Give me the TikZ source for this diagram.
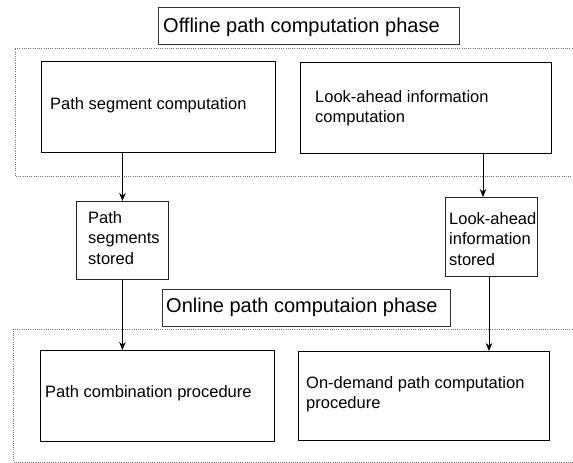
\documentclass[tikz,border=0pt]{standalone}
\usepackage{fontspec}
\setmainfont{Liberation Sans}
\usetikzlibrary{arrows.meta}
\begin{document}
\begin{tikzpicture}[x=1pt,y=-1pt,
  procbox/.style={draw=black, line width=1.2pt, inner sep=0pt, anchor=north west},
  storebox/.style={draw=black!85, line width=0.9pt, inner sep=0pt, anchor=north west},
  titlebox/.style={draw=black!80, line width=0.9pt, inner sep=0pt, anchor=north west},
  phase/.style={draw=black!55, line width=0.8pt, dash pattern=on 0.9pt off 1.3pt},
  txt/.style={anchor=base west, inner sep=0pt, font=\fontsize{16.5}{20.5}\selectfont},
  ttl/.style={anchor=base west, inner sep=0pt, font=\fontsize{20}{24}\selectfont},
  flow/.style={draw=black, line width=0.8pt, -{Stealth[length=8pt,width=6.5pt]}}
]
\useasboundingbox (0,0) rectangle (573,463);
% phase frames (open on the right)
\draw[phase] (590,48) -- (15,48) -- (15,176) -- (590,176);
\draw[phase] (590,329) -- (13,329) -- (13,462) -- (590,462);
% titles
\node[titlebox, minimum width=301pt, minimum height=37pt] (t1) at (158,7) {};
\node[ttl] (t1txt) at (163,32) {Offline path computation phase};
\node[titlebox, minimum width=288pt, minimum height=37pt] (t2) at (162,289) {};
\node[ttl] (t2txt) at (166,312) {Online path computaion phase};
% process boxes
\node[procbox, minimum width=234pt, minimum height=91pt] (b1) at (41,61) {};
\node[txt] (b1txt) at (50,109) {Path segment computation};
\node[procbox, minimum width=251pt, minimum height=91pt] (b2) at (300,62) {};
\node[txt] (b2txt) at (315,102) {\begin{tabular}[t]{@{}l@{}}Look-ahead information\\computation\end{tabular}};
\node[procbox, minimum width=234pt, minimum height=91pt] (b3) at (40,350) {};
\node[txt] (b3txt) at (45,397) {Path combination procedure};
\node[procbox, minimum width=251pt, minimum height=89pt] (b4) at (298,351) {};
\node[txt] (b4txt) at (306,388) {\begin{tabular}[t]{@{}l@{}}On-demand path computation\\procedure\end{tabular}};
% store boxes
\node[storebox, minimum width=92pt, minimum height=78pt] (s1) at (76,201) {};
\node[txt] (s1txt) at (88,223) {\begin{tabular}[t]{@{}l@{}}Path\\segments\\stored\end{tabular}};
\node[storebox, minimum width=92pt, minimum height=79pt] (s2) at (445,197) {};
\node[txt] (s2txt) at (449,224) {\begin{tabular}[t]{@{}l@{}}Look-ahead\\information\\stored\end{tabular}};
% arrow columns
\coordinate (ra) at (483,0);
\coordinate (rb) at (489,0);
% connectors
\draw[flow] (b1.south -| s1.north) -- (s1.north);
\draw[flow] (s1.south) -- (b3.north -| s1.south);
\draw[flow] (b2.south -| ra) -- (s2.north -| ra);
\draw[flow] (s2.south -| rb) -- (b4.north -| rb);
\end{tikzpicture}
\end{document}
